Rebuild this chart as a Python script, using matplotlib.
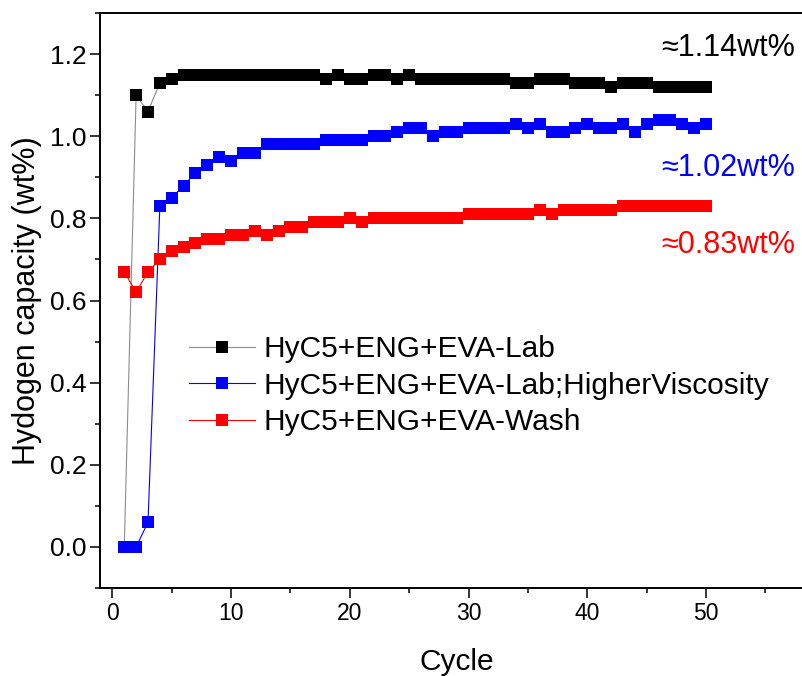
import numpy as np
import matplotlib
matplotlib.use("Agg")
import matplotlib.pyplot as plt
from matplotlib.ticker import MultipleLocator, FormatStrFormatter

plt.rcParams['font.family'] = ['Liberation Sans', 'DejaVu Sans']

# Cycle numbers and hydrogen capacity (wt%) for the three samples
cycles = list(range(1, 51))

lab = [0.00, 1.10, 1.06, 1.13, 1.14, 1.15, 1.15, 1.15, 1.15, 1.15,
       1.15, 1.15, 1.15, 1.15, 1.15, 1.15, 1.15, 1.14, 1.15, 1.14,
       1.14, 1.15, 1.15, 1.14, 1.15, 1.14, 1.14, 1.14, 1.14, 1.14,
       1.14, 1.14, 1.14, 1.13, 1.13, 1.14, 1.14, 1.14, 1.13, 1.13,
       1.13, 1.12, 1.13, 1.13, 1.13, 1.12, 1.12, 1.12, 1.12, 1.12]

lab_visc = [0.00, 0.00, 0.06, 0.83, 0.85, 0.88, 0.91, 0.93, 0.95, 0.94,
            0.96, 0.96, 0.98, 0.98, 0.98, 0.98, 0.98, 0.99, 0.99, 0.99,
            0.99, 1.00, 1.00, 1.01, 1.02, 1.02, 1.00, 1.01, 1.01, 1.02,
            1.02, 1.02, 1.02, 1.03, 1.02, 1.03, 1.01, 1.01, 1.02, 1.03,
            1.02, 1.02, 1.03, 1.01, 1.03, 1.04, 1.04, 1.03, 1.02, 1.03]

wash = [0.67, 0.62, 0.67, 0.70, 0.72, 0.73, 0.74, 0.75, 0.75, 0.76,
        0.76, 0.77, 0.76, 0.77, 0.78, 0.78, 0.79, 0.79, 0.79, 0.80,
        0.79, 0.80, 0.80, 0.80, 0.80, 0.80, 0.80, 0.80, 0.80, 0.81,
        0.81, 0.81, 0.81, 0.81, 0.81, 0.82, 0.81, 0.82, 0.82, 0.82,
        0.82, 0.82, 0.83, 0.83, 0.83, 0.83, 0.83, 0.83, 0.83, 0.83]

labels = ["HyC5+ENG+EVA-Lab",
          "HyC5+ENG+EVA-Lab;HigherViscosity",
          "HyC5+ENG+EVA-Wash"]
notes = ["\u22481.14wt%", "\u22481.02wt%", "\u22480.83wt%"]

W, H = 803, 676
fig = plt.figure(figsize=(W / 100, H / 100), dpi=100)
ax = fig.add_axes([100.5 / W, 88 / H, 703 / W, 575 / H])

ms = 9.2
ax.plot(cycles, lab, color='#8c8c8c', lw=0.8, marker='s', ms=ms,
        mfc='black', mec='black', mew=0, label=labels[0])
ax.plot(cycles, lab_visc, color='#0000ff', lw=0.8, marker='s', ms=ms,
        mfc='#0000ff', mec='#0000ff', mew=0, label=labels[1])
ax.plot(cycles, wash, color='#ff0000', lw=0.8, marker='s', ms=ms,
        mfc='#ff0000', mec='#ff0000', mew=0, label=labels[2])

ax.set_xlim(-1, 58.2)
ax.set_ylim(-0.1, 1.3)
ax.spines['right'].set_visible(False)
ax.xaxis.set_major_locator(MultipleLocator(10))
ax.xaxis.set_minor_locator(MultipleLocator(5))
ax.yaxis.set_major_locator(MultipleLocator(0.2))
ax.yaxis.set_minor_locator(MultipleLocator(0.1))
ax.yaxis.set_major_formatter(FormatStrFormatter('%.1f'))
ax.xaxis.set_major_formatter(FormatStrFormatter('%d'))
ax.tick_params(which='both', direction='out', width=1.1, top=False, right=False)
ax.tick_params(which='major', length=7, pad=3)
ax.tick_params(axis='x', which='major', labelsize=16.5)
ax.tick_params(axis='y', which='major', labelsize=19)
ax.tick_params(which='minor', length=3.5)
for s in ax.spines.values():
    s.set_linewidth(1.4)

ax.set_xlabel("Cycle", fontsize=21.5, va='center')
ax.set_ylabel("Hydogen capacity (wt%)", fontsize=22, va='center')
ax.xaxis.set_label_coords(0.5063, -0.1287)
ax.yaxis.set_label_coords(-0.1046, 0.5)

leg = ax.legend(loc='center left', bbox_to_anchor=(189 / W, 1 - 385.7 / H),
                bbox_transform=fig.transFigure, frameon=False, fontsize=21.5,
                handlelength=2.2, handletextpad=0.3, labelspacing=0.29,
                borderpad=0, borderaxespad=0)

note_colors = ['black', '#0000ff', '#ff0000']
note_y = [48, 168, 245]
for t, c, y in zip(notes, note_colors, note_y):
    fig.text(795 / W, 1 - y / H, t, color=c, fontsize=22,
             ha='right', va='center')

fig.savefig("out.png", dpi=100)
